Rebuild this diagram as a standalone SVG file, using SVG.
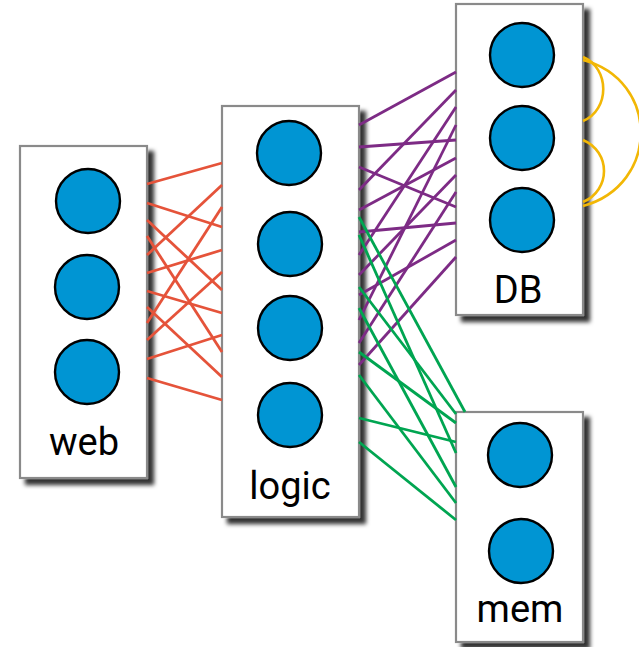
<svg xmlns="http://www.w3.org/2000/svg" width="639" height="647" viewBox="0 0 639 647">
<defs>
<filter id="sh" x="-20%" y="-20%" width="150%" height="150%">
<feDropShadow dx="6" dy="6" stdDeviation="2.2" flood-color="#000" flood-opacity="0.8"/>
</filter>
<style>
.box{fill:#fff;stroke:#8a8a8a;stroke-width:2.2;filter:url(#sh)}
.n{fill:#0095D3;stroke:#000;stroke-width:2.4}
.lbl{font-family:Roboto,"Liberation Sans",sans-serif;font-size:38px;fill:#000;text-anchor:middle}
.r line{stroke:#E5533A;stroke-width:2.8}
.p line{stroke:#7D2B85;stroke-width:2.8}
.g line{stroke:#00A551;stroke-width:2.8}
.y path{fill:none;stroke:#F2B705;stroke-width:2.6}
</style>
</defs>
<rect width="639" height="647" fill="#fff"/>
<g id="web">
<rect class="box" x="20" y="146" width="127" height="332"/>
<circle class="n" cx="88" cy="201" r="32"/>
<circle class="n" cx="87" cy="287" r="32"/>
<circle class="n" cx="87" cy="372" r="32"/>
<text class="lbl" x="84" y="455">web</text>
</g>
<g id="logic">
<rect class="box" x="222" y="106" width="137" height="411"/>
<circle class="n" cx="289" cy="153" r="32"/>
<circle class="n" cx="290" cy="244" r="32"/>
<circle class="n" cx="290" cy="328" r="32"/>
<circle class="n" cx="290" cy="415" r="32"/>
<text class="lbl" x="290" y="499">logic</text>
</g>
<g id="db">
<rect class="box" x="456" y="4" width="127" height="311"/>
<circle class="n" cx="522" cy="55" r="32"/>
<circle class="n" cx="522" cy="138" r="32"/>
<circle class="n" cx="522" cy="220" r="32"/>
<text class="lbl" x="518" y="303">DB</text>
</g>
<g id="mem">
<rect class="box" x="456" y="412" width="127" height="230"/>
<circle class="n" cx="520" cy="455" r="32"/>
<circle class="n" cx="521" cy="551" r="32"/>
<text class="lbl" x="520" y="622">mem</text>
</g>
<g id="connectors">
<g class="r">
<line x1="147" y1="184" x2="222" y2="163"/>
<line x1="147" y1="203" x2="222" y2="227"/>
<line x1="147" y1="220" x2="222" y2="290"/>
<line x1="147" y1="236" x2="222" y2="352"/>
<line x1="147" y1="255" x2="222" y2="185"/>
<line x1="147" y1="273" x2="222" y2="250"/>
<line x1="147" y1="291" x2="222" y2="313"/>
<line x1="147" y1="307" x2="222" y2="377"/>
<line x1="147" y1="323" x2="222" y2="207"/>
<line x1="147" y1="340" x2="222" y2="272"/>
<line x1="147" y1="359" x2="222" y2="335"/>
<line x1="147" y1="378" x2="222" y2="400"/>
</g>
<g class="p">
<line x1="359" y1="125" x2="456" y2="72"/>
<line x1="359" y1="147" x2="456" y2="140"/>
<line x1="359" y1="167" x2="456" y2="207"/>
<line x1="359" y1="190" x2="456" y2="90"/>
<line x1="359" y1="210" x2="456" y2="158"/>
<line x1="359" y1="232" x2="456" y2="223"/>
<line x1="359" y1="255" x2="456" y2="107"/>
<line x1="359" y1="275" x2="456" y2="175"/>
<line x1="359" y1="295" x2="456" y2="240"/>
<line x1="359" y1="320" x2="456" y2="125"/>
<line x1="359" y1="343" x2="456" y2="192"/>
<line x1="359" y1="365" x2="456" y2="257"/>
</g>
<g class="g">
<line x1="359" y1="217" x2="465" y2="412"/>
<line x1="359" y1="235" x2="456" y2="453"/>
<line x1="359" y1="287" x2="456" y2="414"/>
<line x1="359" y1="308" x2="456" y2="487"/>
<line x1="359" y1="352" x2="456" y2="423"/>
<line x1="359" y1="375" x2="456" y2="503"/>
<line x1="359" y1="418" x2="456" y2="442"/>
<line x1="359" y1="442" x2="456" y2="520"/>
</g>
<g class="y">
<path d="M583,57 C610,68 610,110 583,121"/>
<path d="M583,140 C611,152 611,190 583,202"/>
<path d="M583,60 C660,80 660,185 583,206"/>
</g>
</g>
</svg>
